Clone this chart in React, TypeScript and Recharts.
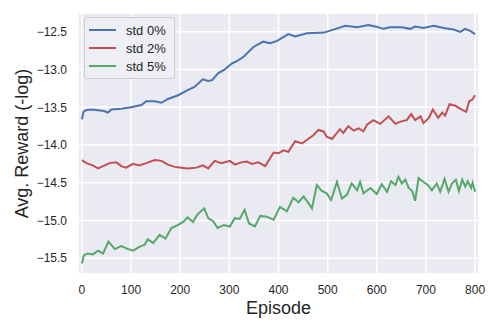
import {
  LineChart,
  Line,
  XAxis,
  YAxis,
  CartesianGrid,
  Legend
} from 'recharts'

document.body.style.margin = '0'

// values, episode -> avg reward (-log)
const std0Episodes = [0, 3, 8, 19, 33, 45, 53, 60, 80, 100, 121, 131, 148, 162, 175, 196, 216, 229, 246, 257, 265, 277, 290, 305, 317, 329, 349, 369, 383, 397, 420, 434, 458, 492, 512, 536, 560, 583, 597, 614, 627, 651, 668, 678, 695, 716, 736, 756, 770, 780, 791, 800]
const std0Values = [-13.66, -13.56, -13.54, -13.53, -13.54, -13.55, -13.57, -13.53, -13.52, -13.5, -13.47, -13.42, -13.42, -13.44, -13.39, -13.34, -13.27, -13.23, -13.13, -13.15, -13.14, -13.05, -13.0, -12.92, -12.88, -12.83, -12.7, -12.63, -12.65, -12.62, -12.53, -12.56, -12.52, -12.51, -12.47, -12.42, -12.44, -12.41, -12.43, -12.46, -12.44, -12.44, -12.46, -12.43, -12.45, -12.42, -12.45, -12.47, -12.5, -12.46, -12.49, -12.53]

const std2Episodes = [0, 9, 22, 33, 43, 56, 70, 80, 90, 104, 117, 131, 148, 162, 175, 189, 202, 216, 233, 246, 257, 270, 284, 301, 311, 324, 335, 346, 359, 373, 390, 400, 410, 420, 434, 448, 458, 471, 481, 492, 498, 509, 525, 532, 542, 553, 563, 573, 580, 593, 607, 624, 638, 648, 661, 670, 678, 689, 695, 706, 714, 725, 733, 739, 748, 760, 773, 782, 788, 794, 800]
const std2Values = [-14.2, -14.24, -14.27, -14.31, -14.28, -14.24, -14.23, -14.28, -14.3, -14.25, -14.27, -14.24, -14.2, -14.21, -14.26, -14.29, -14.3, -14.31, -14.3, -14.27, -14.31, -14.21, -14.24, -14.21, -14.26, -14.23, -14.22, -14.25, -14.23, -14.28, -14.1, -14.11, -14.07, -14.09, -13.95, -13.98, -13.93, -13.87, -13.8, -13.82, -13.89, -13.92, -13.79, -13.84, -13.75, -13.81, -13.78, -13.82, -13.73, -13.67, -13.72, -13.62, -13.72, -13.69, -13.67, -13.59, -13.67, -13.62, -13.71, -13.64, -13.53, -13.64, -13.57, -13.61, -13.46, -13.48, -13.53, -13.56, -13.42, -13.4, -13.34]

const std5Episodes = [0, 4, 12, 22, 33, 43, 54, 67, 80, 94, 104, 117, 128, 134, 145, 158, 170, 182, 196, 206, 215, 226, 235, 249, 257, 267, 276, 289, 301, 311, 321, 331, 340, 352, 363, 376, 390, 403, 417, 430, 441, 451, 461, 468, 478, 488, 498, 507, 519, 529, 539, 549, 560, 566, 573, 587, 600, 610, 621, 629, 638, 644, 651, 658, 665, 672, 678, 685, 695, 704, 712, 722, 729, 738, 746, 753, 761, 767, 774, 780, 785, 792, 795, 800]
const std5Values = [-15.57, -15.46, -15.44, -15.45, -15.4, -15.44, -15.28, -15.38, -15.34, -15.38, -15.4, -15.35, -15.32, -15.25, -15.3, -15.19, -15.24, -15.1, -15.06, -15.02, -14.96, -15.02, -14.92, -14.84, -14.97, -15.01, -15.1, -15.06, -15.08, -14.97, -14.98, -14.86, -15.04, -15.08, -14.94, -14.95, -14.99, -14.82, -14.88, -14.7, -14.76, -14.68, -14.77, -14.84, -14.53, -14.61, -14.64, -14.73, -14.49, -14.71, -14.66, -14.51, -14.6, -14.49, -14.64, -14.57, -14.65, -14.52, -14.62, -14.48, -14.53, -14.42, -14.51, -14.46, -14.57, -14.61, -14.74, -14.44, -14.49, -14.53, -14.6, -14.51, -14.62, -14.45, -14.62, -14.51, -14.46, -14.61, -14.46, -14.55, -14.48, -14.57, -14.5, -14.62]

const xTicks = [0, 100, 200, 300, 400, 500, 600, 700, 800]
const yTicks = [-15.5, -15.0, -14.5, -14.0, -13.5, -13.0, -12.5]

const font = '"Liberation Sans", Arial, sans-serif'
const textColor = '#262626'

const toPoints = (xs: number[], ys: number[]) =>
  xs.map((x, i) => ({ episode: x, reward: ys[i] }))

const series = [
  { name: 'std 0%', color: '#4C72B0', data: toPoints(std0Episodes, std0Values) },
  { name: 'std 2%', color: '#C44E52', data: toPoints(std2Episodes, std2Values) },
  { name: 'std 5%', color: '#55A868', data: toPoints(std5Episodes, std5Values) },
]

const fmtY = (v: number) => v.toFixed(1).replace('-', '\u2212')

function LegendBox() {
  return (
    <div
      style={{
        background: '#EEEEF5',
        border: '1px solid #cccccc',
        borderRadius: 3,
        padding: '3px 8px 3px 4px',
        fontFamily: font,
        fontSize: 13,
        color: textColor,
      }}
    >
      {series.map((s) => (
        <div key={s.name} style={{ display: 'flex', alignItems: 'center', height: 18 }}>
          <span style={{ display: 'inline-block', width: 27, height: 2, background: s.color, marginRight: 10 }} />
          <span>{s.name}</span>
        </div>
      ))}
    </div>
  )
}

export default function App() {
  return (
    <LineChart
      width={498}
      height={332}
      margin={{ top: 13, right: 19, bottom: 0, left: 0 }}
    >
      <CartesianGrid fill="#EAEAF2" stroke="#ffffff" strokeWidth={1.5} />
      <XAxis
        dataKey="episode"
        type="number"
        domain={[-8, 808]}
        ticks={xTicks}
        allowDataOverflow
        axisLine={false}
        tickLine={false}
        tickSize={0}
        tickMargin={11}
        height={58}
        tick={{ fontSize: 12, fill: textColor, fontFamily: font }}
        label={{
          value: 'Episode',
          position: 'insideBottom',
          offset: 18,
          style: { fontSize: 18, fill: textColor, fontFamily: font },
        }}
      />
      <YAxis
        type="number"
        domain={[-15.71, -12.25]}
        ticks={yTicks}
        allowDataOverflow
        axisLine={false}
        tickLine={false}
        tickSize={0}
        tickMargin={11}
        width={78}
        tickFormatter={fmtY}
        tick={{ fontSize: 12, fill: textColor, fontFamily: font }}
        label={{
          value: 'Avg. Reward (-log)',
          angle: -90,
          position: 'insideLeft',
          offset: 22,
          style: { fontSize: 18, fill: textColor, fontFamily: font, textAnchor: 'middle' },
        }}
      />
      <Legend
        layout="vertical"
        align="center"
        verticalAlign="middle"
        wrapperStyle={{ left: 84, top: 17, width: 'auto' }}
        content={() => <LegendBox />}
      />
      {series.map((s) => (
        <Line
          key={s.name}
          name={s.name}
          data={s.data}
          dataKey="reward"
          type="linear"
          stroke={s.color}
          strokeWidth={2}
          dot={false}
          isAnimationActive={false}
        />
      ))}
    </LineChart>
  )
}
